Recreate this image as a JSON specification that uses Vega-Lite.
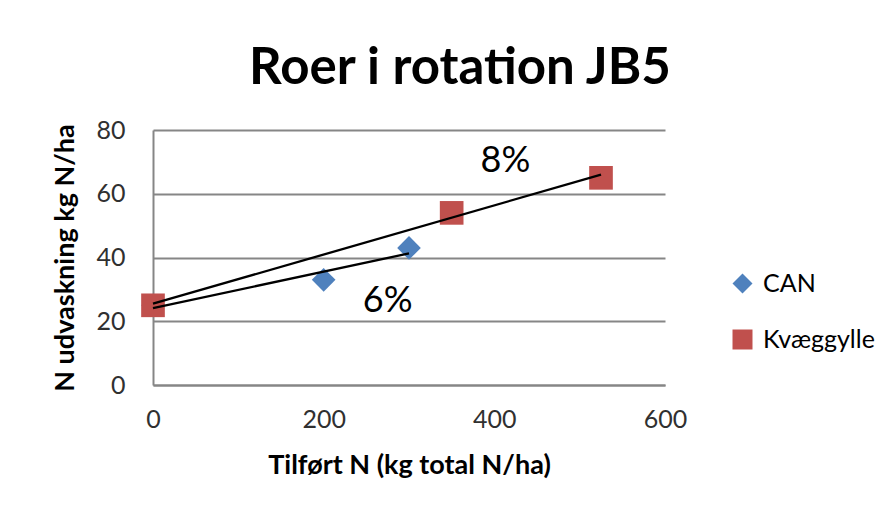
{
  "$schema": "https://vega.github.io/schema/vega-lite/v6.json",
  "width": 512,
  "height": 255,
  "autosize": {"type": "none"},
  "padding": {"left": 153, "top": 130, "right": 227, "bottom": 129},
  "background": "white",
  "config": {"view": {"stroke": null}, "font": "Lato"},
  "title": {"text": "Roer i rotation JB5", "fontSize": 51, "font": "Lato", "fontWeight": "bold", "color": "black", "anchor": "middle", "dx": 51, "offset": 23},
  "datasets": {
    "pts": [
      {"series": "CAN", "x": 0, "y": 25},
      {"series": "CAN", "x": 200, "y": 33},
      {"series": "CAN", "x": 300, "y": 43},
      {"series": "Kvæggylle", "x": 0, "y": 25},
      {"series": "Kvæggylle", "x": 350, "y": 54},
      {"series": "Kvæggylle", "x": 525, "y": 65}
    ],
    "labels": [
      {"x": 413, "y": 70.3, "label": "8%"},
      {"x": 275, "y": 26.5, "label": "6%"}
    ]
  },
  "layer": [
    {
      "data": {"name": "pts"},
      "mark": {"type": "point", "filled": true, "opacity": 1, "size": 560, "strokeWidth": 0},
      "encoding": {
        "x": {"field": "x", "type": "quantitative", "scale": {"domain": [0, 600], "nice": false},
          "axis": {"title": "Tilført N (kg total N/ha)", "values": [0, 200, 400, 600], "grid": false, "ticks": false, "labelFlush": false, "domainColor": "#868686", "domainWidth": 2, "labelFontSize": 25, "labelColor": "#303030", "labelPadding": 22, "titleFontSize": 27, "titleFontWeight": "bold", "titleColor": "black", "titlePadding": 20, "labelFont": "Lato", "titleFont": "Lato"}},
        "y": {"field": "y", "type": "quantitative", "scale": {"domain": [0, 80], "nice": false},
          "axis": {"title": "N udvaskning kg N/ha", "values": [0, 20, 40, 60, 80], "grid": true, "gridColor": "#868686", "gridWidth": 2, "ticks": false, "domainColor": "#868686", "domainWidth": 2, "labelFontSize": 25, "labelColor": "#303030", "labelPadding": 28, "titleFontSize": 27, "titleFontWeight": "bold", "titleColor": "black", "titlePadding": 16, "labelFont": "Lato", "titleFont": "Lato"}},
        "color": {"field": "series", "type": "nominal", "scale": {"domain": ["CAN", "Kvæggylle"], "range": ["#4F81BD", "#C0504D"]},
          "legend": {"orient": "none", "legendX": 577, "legendY": 141, "title": null, "labelFontSize": 25, "labelFont": "Lato", "labelColor": "black", "symbolSize": 400, "rowPadding": 30, "symbolStrokeWidth": 0, "labelOffset": 8}},
        "shape": {"field": "series", "type": "nominal", "scale": {"domain": ["CAN", "Kvæggylle"], "range": ["diamond", "square"]}}
      }
    },
    {
      "data": {"name": "pts"},
      "transform": [{"regression": "y", "on": "x", "groupby": ["series"]}],
      "mark": {"type": "line", "color": "black", "strokeWidth": 2.3},
      "encoding": {
        "x": {"field": "x", "type": "quantitative"},
        "y": {"field": "y", "type": "quantitative"},
        "detail": {"field": "series", "type": "nominal"}
      }
    },
    {
      "data": {"name": "labels"},
      "mark": {"type": "text", "fontSize": 36, "font": "Lato", "color": "black"},
      "encoding": {
        "x": {"field": "x", "type": "quantitative"},
        "y": {"field": "y", "type": "quantitative"},
        "text": {"field": "label"}
      }
    }
  ]
}
